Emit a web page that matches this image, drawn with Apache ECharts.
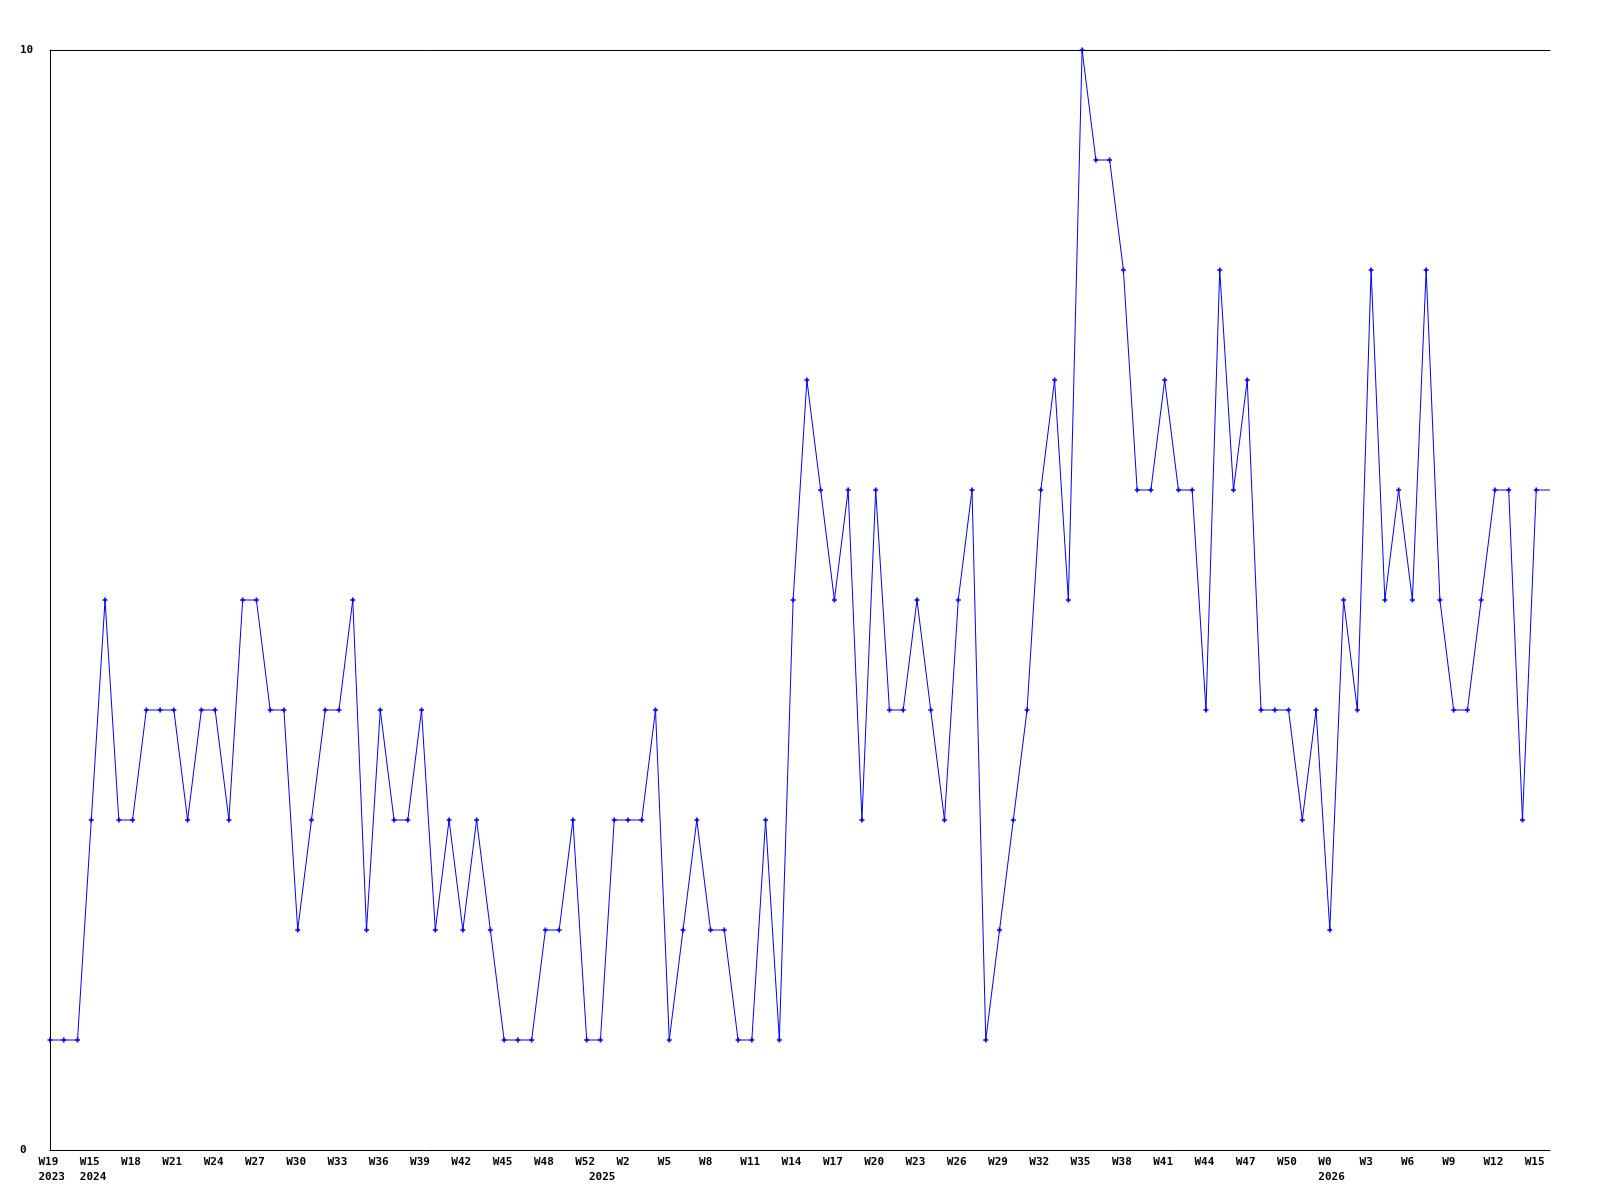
<!DOCTYPE html>
<html>
<head>
<meta charset="utf-8">
<script src="https://cdn.jsdelivr.net/npm/echarts@6/dist/echarts.min.js"></script>
<style>
html,body{margin:0;padding:0;background:#fff;}
#c{width:1600px;height:1200px;}
</style>
</head>
<body>
<div id="c"></div>
<script>
// Week categories (one per point)
const weeks = [
  'W19','W20','W21',
  'W15','W16','W17','W18','W19','W20','W21','W22','W23','W24','W25','W26','W27','W28','W29','W30',
  'W31','W32','W33','W34','W35','W36','W37','W38','W39','W40','W41','W42','W43','W44','W45','W46',
  'W47','W48','W49','W50','W52',
  'W0','W1','W2','W3','W4','W5','W6','W7','W8','W9','W10','W11','W12','W13','W14','W15','W16',
  'W17','W18','W19','W20','W21','W22','W23','W24','W25','W26','W27','W28','W29','W30','W31','W32',
  'W33','W34','W35','W36','W37','W38','W39','W40','W41','W42','W43','W44','W45','W46','W47','W48',
  'W49','W50','W51','W52',
  'W0','W1','W2','W3','W4','W5','W6','W7','W8','W9','W10','W11','W12','W13','W14','W15','W16'
];
// Year labels and the point index where each year starts
const yearLabels = ['2023','2024','2025','2026'];
const yearStartIdx = [0, 3, 40, 93];
// Values
const values = [
  1,1,1,3,5,3,3,4,4,4,
  3,4,4,3,5,5,4,4,2,3,
  4,4,5,2,4,3,3,4,2,3,
  2,3,2,1,1,1,2,2,3,1,
  1,3,3,3,4,1,2,3,2,2,
  1,1,3,1,5,7,6,5,6,3,
  6,4,4,5,4,3,5,6,1,2,
  3,4,6,7,5,10,9,9,8,6,
  6,7,6,6,4,8,6,7,4,4,
  4,3,4,2,5,4,8,5,6,5,
  8,5,4,4,5,6,6,3,6,6
];
// Y tick labels
const yMin = 0, yMax = 10;

const font = "'DejaVu Sans Mono', monospace";
const yearMap = {};
yearStartIdx.forEach((i, k) => { yearMap[i] = yearLabels[k]; });

const chart = echarts.init(document.getElementById('c'), null, {renderer: 'canvas'});
const plus = 'path://M1,0H2V1H3V2H2V3H1V2H0V1H1Z';
const lastIdx = values.length - 1;

chart.setOption({
  animation: false,
  backgroundColor: '#ffffff',
  grid: {left: 50, right: 50, top: 50, bottom: 50, containLabel: false},
  xAxis: [
    {
      type: 'category', data: weeks, boundaryGap: false, position: 'bottom',
      axisLine: {show: true, lineStyle: {color: '#000', width: 1}},
      axisTick: {show: false},
      splitLine: {show: false},
      axisLabel: {
        interval: (i) => i % 3 === 0,
        margin: 6,
        formatter: (v) => '{a|' + v + '}',
        rich: {a: {width: 23, align: 'left', fontFamily: font, fontWeight: 'bold', fontSize: 11, color: '#000', lineHeight: 13}}
      }
    },
    {
      type: 'category', data: weeks, boundaryGap: false, position: 'top',
      axisLine: {show: true, lineStyle: {color: '#000', width: 1}},
      axisTick: {show: false}, axisLabel: {show: false}, splitLine: {show: false}
    },
    {
      type: 'category', data: weeks, boundaryGap: false, position: 'bottom', offset: 0,
      axisLine: {show: false}, axisTick: {show: false}, splitLine: {show: false},
      axisLabel: {
        interval: (i) => yearMap[i] !== undefined,
        margin: 21,
        formatter: (v, i) => '{a|' + (yearMap[i] || '') + '}',
        rich: {a: {width: 23, align: 'left', fontFamily: font, fontWeight: 'bold', fontSize: 11, color: '#000', lineHeight: 13}}
      }
    }
  ],
  yAxis: {
    type: 'value', min: yMin, max: yMax, interval: 10,
    axisLine: {show: true, lineStyle: {color: '#000', width: 1}},
    axisTick: {show: false},
    splitLine: {show: false},
    axisLabel: {align: 'left', margin: 30, fontFamily: font, fontWeight: 'bold', fontSize: 11, color: '#000'}
  },
  series: [{
    type: 'line',
    xAxisIndex: 0,
    data: values.map((v, i) => i === lastIdx ? {value: v, symbol: 'none'} : v),
    symbol: plus,
    symbolSize: 5,
    showAllSymbol: true,
    itemStyle: {color: '#0000ff'},
    lineStyle: {color: '#0000ff', width: 1},
    emphasis: {disabled: true}
  }]
});
</script>
</body>
</html>
